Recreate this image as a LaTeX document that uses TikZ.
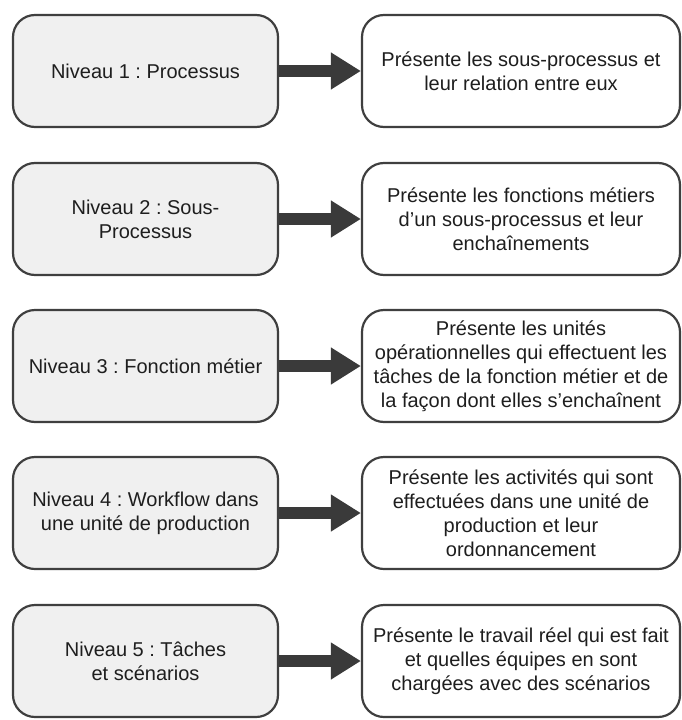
\documentclass[tikz,border=0pt]{standalone}
\usepackage{fontspec}
\setmainfont{Liberation Sans}
\usetikzlibrary{arrows.meta}
\frenchspacing
\definecolor{edgegray}{HTML}{3F3F3F}
\definecolor{levelfill}{HTML}{F0F0F0}
\definecolor{arrowgray}{HTML}{3A3A3A}
\definecolor{txt}{HTML}{1E1E1E}
\begin{document}
\begin{tikzpicture}[x=1pt,y=-1pt,
  box/.style={draw=edgegray, line width=2.2pt, rounded corners=22pt,
    minimum height=112pt, align=center, text=txt,
    font=\fontsize{20}{24}\selectfont, inner sep=0pt},
  levelbox/.style={box, fill=levelfill, minimum width=265pt},
  descbox/.style={box, fill=white, minimum width=318pt},
  link/.style={draw=arrowgray, line width=12pt,
    -{Triangle[length=30pt,width=35pt]}}]
\useasboundingbox (0,0) rectangle (682,720);

\node[levelbox] (l1) at (145.5,71) {Niveau 1 : Processus};
\node[descbox]  (r1) at (521,71) {Présente les sous-processus et\\leur relation entre eux};

\node[levelbox] (l2) at (145.5,219) {Niveau 2 : Sous-\\Processus};
\node[descbox]  (r2) at (521,219) {Présente les fonctions métiers\\d’un sous-processus et leur\\enchaînements};

\node[levelbox] (l3) at (145.5,366) {Niveau 3 : Fonction métier};
\node[descbox]  (r3) at (521,366) {Présente les unités\\opérationnelles qui effectuent les\\tâches de la fonction métier et de\\la façon dont elles s’enchaînent};

\node[levelbox] (l4) at (145.5,513) {Niveau 4 : Workflow dans\\une unité de production};
\node[descbox]  (r4) at (521,513) {Présente les activités qui sont\\effectuées dans une unité de\\production et leur\\ordonnancement};

\node[levelbox] (l5) at (145.5,661) {Niveau 5 : Tâches\\et scénarios};
\node[descbox]  (r5) at (521,661) {Présente le travail réel qui est fait\\et quelles équipes en sont\\chargées avec des scénarios};

\foreach \i in {1,...,5}
  \draw[link] (l\i.east) -- (r\i.west);
\end{tikzpicture}
\end{document}
